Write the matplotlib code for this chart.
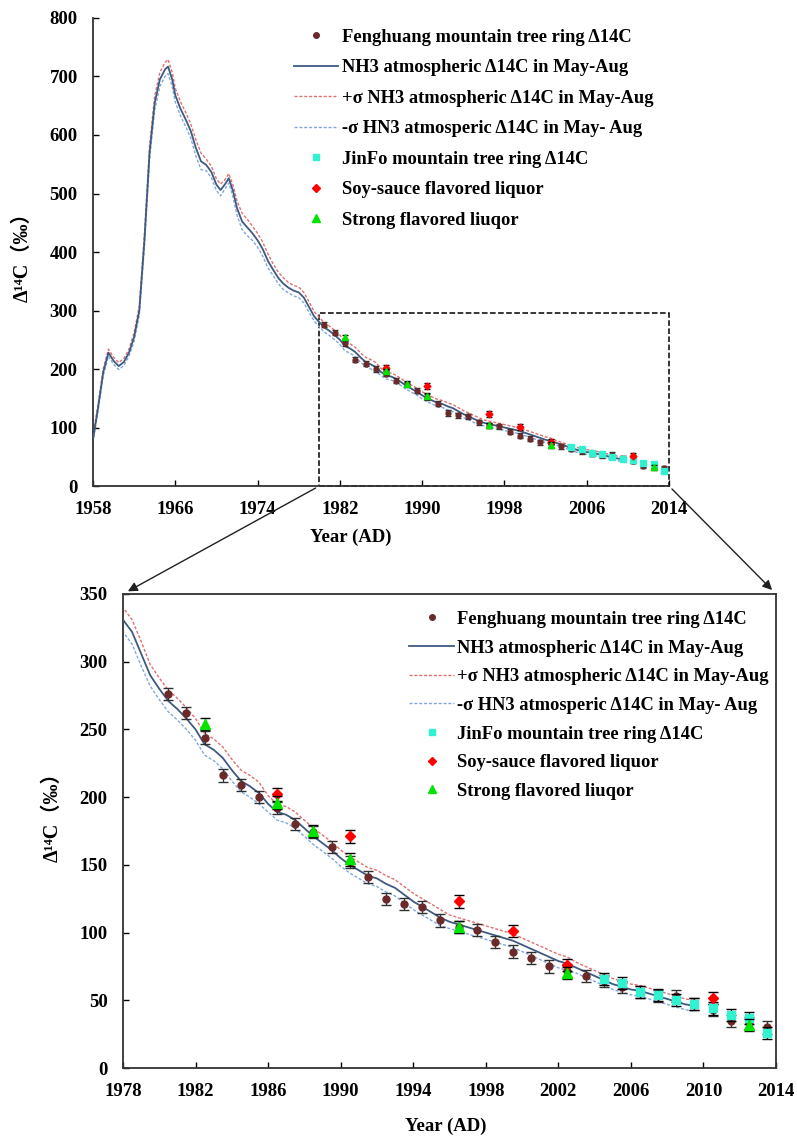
import numpy as np
import matplotlib
matplotlib.use("Agg")
import matplotlib.pyplot as plt
from matplotlib.patches import Rectangle, ConnectionPatch
from matplotlib.lines import Line2D

plt.rcParams['font.family'] = ['Liberation Serif', 'Noto Sans CJK SC', 'DejaVu Sans']
plt.rcParams['font.weight'] = 'bold'

# atmospheric curve (NH3 zone 3, May-Aug)
atm_year = [1958.0, 1958.5, 1959.0, 1959.5, 1960.0, 1960.5, 1961.0, 1961.5, 1962.0, 1962.5,
            1963.0, 1963.5, 1964.0, 1964.5, 1965.0, 1965.3, 1965.7,
            1966.0, 1966.5, 1967.0, 1967.5, 1968.0, 1968.5, 1969.0, 1969.5, 1970.0, 1970.4, 1970.8, 1971.2, 1971.6,
            1972.0, 1972.5, 1973.0, 1973.5, 1974.0, 1974.5, 1975.0, 1975.5, 1976.0, 1976.5, 1977.0, 1977.5,
            1978.0, 1978.5, 1979.0, 1979.5, 1980.0, 1980.5, 1981.0, 1981.5, 1982.0, 1982.5, 1983.0, 1983.5,
            1984.0, 1984.5, 1985.0, 1985.5, 1986.0, 1986.5, 1987.0, 1987.5, 1988.0, 1988.5, 1989.0, 1989.5,
            1990.0, 1990.5, 1991.0, 1991.5, 1992.0, 1992.5, 1993.0, 1993.5, 1994.0, 1994.5, 1995.0, 1995.5,
            1996.0, 1996.5, 1997.0, 1997.5, 1998.0, 1998.5, 1999.0, 1999.5, 2000.0, 2000.5, 2001.0, 2001.5,
            2002.0, 2002.5, 2003.0, 2003.5, 2004.0, 2004.5, 2005.0, 2005.5, 2006.0, 2006.5, 2007.0, 2007.5,
            2008.0, 2008.5, 2009.0, 2009.5]
nh3 = [80, 135, 195, 228, 214, 205, 212, 228, 255, 300,
       420, 570, 655, 695, 712, 717, 695,
       668, 645, 627, 607, 578, 555, 549, 537, 515, 506, 515, 526, 505,
       475, 452, 442, 432, 420, 405, 385, 370, 356, 346, 339, 334,
       331, 322, 306, 290, 280, 271, 265, 258, 250, 239, 235, 229,
       220, 212, 208, 203, 195, 189, 187, 183, 177, 171, 166, 161,
       155, 150, 146, 142, 140, 136, 133, 128, 123, 119, 115, 111,
       108, 106, 104, 102, 100, 98, 96, 94, 91, 88, 85, 82,
       79, 77, 74, 71, 68, 65, 62, 60, 58, 57, 55, 53,
       51, 49, 47, 46]
sigma = [5, 6, 6, 6, 6, 6, 6, 6, 7, 8,
         10, 12, 12, 12, 12, 12, 12,
         12, 12, 12, 12, 14, 14, 10, 10, 10, 10, 8, 8, 10,
         12, 14, 14, 12, 12, 12, 12, 10, 10, 10, 9, 9,
         9, 9, 9, 8, 8, 8, 8, 8, 8, 8, 8, 8,
         8, 8, 8, 8, 6, 6, 6, 6, 6, 6, 6, 6,
         6, 6, 6, 6, 6, 6, 6, 6, 6, 6, 6, 6,
         5, 5, 5, 5, 5, 5, 5, 5, 5, 5, 5, 5,
         5, 5, 4, 4, 4, 4, 4, 4, 4, 4, 4, 4,
         4, 4, 4, 4]

feng_year = [1980.5, 1981.5, 1982.5, 1983.5, 1984.5, 1985.5, 1986.5, 1987.5, 1988.5, 1989.5,
             1990.5, 1991.5, 1992.5, 1993.5, 1994.5, 1995.5, 1996.5, 1997.5, 1998.5, 1999.5,
             2000.5, 2001.5, 2002.5, 2003.5, 2004.5, 2005.5, 2006.5, 2007.5, 2008.5, 2009.5,
             2010.5, 2011.5, 2012.5, 2013.5]
feng = [276, 262, 244, 216, 209, 200, 192, 180, 174, 163,
        152, 141, 125, 121, 119, 109, 104, 102, 93, 86,
        81, 75, 72, 68, 64, 60, 56, 53, 53, 47,
        43, 35, 33, 30]
jinfo_year = [2004.5, 2005.5, 2006.5, 2007.5, 2008.5, 2009.5, 2010.5, 2011.5, 2012.5, 2013.5]
jinfo = [66, 63, 56, 54, 50, 47, 44, 39, 37, 26]
soy_year = [1986.5, 1990.5, 1996.5, 1999.5, 2002.5, 2010.5]
soy = [202, 171, 123, 101, 76, 52]
strong_year = [1982.5, 1986.5, 1988.5, 1990.5, 1996.5, 2002.5, 2012.5]
strong = [254, 196, 175, 154, 104, 70, 32]
err = 4.5

labels = ["Fenghuang mountain tree ring \u039414C",
          "NH3 atmospheric \u039414C in May-Aug",
          "+\u03c3 NH3 atmospheric \u039414C in May-Aug",
          "-\u03c3 HN3 atmosperic \u039414C in May- Aug",
          "JinFo mountain tree ring \u039414C",
          "Soy-sauce flavored liquor",
          "Strong flavored liuqor"]

c_brown = "#6B2A2A"
c_line = "#3D5A80"
c_up = "#E07070"
c_low = "#80A8DE"
c_cyan = "#30F2D0"
c_red = "#FF0000"
c_green = "#00E400"
dash = (0, (2.2, 1.3))

upper = np.array(nh3) + np.array(sigma)
lower = np.array(nh3) - np.array(sigma)

fig = plt.figure(figsize=(7.97, 11.39), dpi=100)
ax1 = fig.add_axes([0.1167, 0.5733, 0.7227, 0.4109])
ax2 = fig.add_axes([0.1543, 0.0623, 0.8194, 0.4162])


def draw(ax, ms, cap):
    ax.errorbar(feng_year, feng, yerr=err, fmt='o', color=c_brown, ms=ms,
                ecolor='#303030', elinewidth=0.9, capsize=cap, zorder=4)
    ax.plot(atm_year, nh3, color=c_line, lw=1.3, zorder=3)
    ax.plot(atm_year, upper, color=c_up, lw=1.0, ls=dash, zorder=2)
    ax.plot(atm_year, lower, color=c_low, lw=1.0, ls=dash, zorder=2)
    ax.errorbar(jinfo_year, jinfo, yerr=err, fmt='s', color=c_cyan, ms=ms * 1.1,
                ecolor='black', elinewidth=0.9, capsize=cap, zorder=5)
    ax.errorbar(soy_year, soy, yerr=err, fmt='D', color=c_red, ms=ms,
                ecolor='black', elinewidth=0.9, capsize=cap, zorder=5)
    ax.errorbar(strong_year, strong, yerr=err, fmt='^', color=c_green, ms=ms * 1.3,
                ecolor='black', elinewidth=0.9, capsize=cap, zorder=6)


draw(ax1, 3.5, 2.5)
draw(ax2, 5, 3.5)

handles = [Line2D([], [], ls='none', marker='o', color=c_brown, ms=4),
           Line2D([], [], color=c_line, lw=1.3),
           Line2D([], [], color=c_up, lw=1.0, ls=dash),
           Line2D([], [], color=c_low, lw=1.0, ls=dash),
           Line2D([], [], ls='none', marker='s', color=c_cyan, ms=5),
           Line2D([], [], ls='none', marker='D', color=c_red, ms=4.5),
           Line2D([], [], ls='none', marker='^', color=c_green, ms=6)]

# top panel
ax1.set_xlim(1958, 2014)
ax1.set_ylim(0, 800)
ax1.set_xticks(np.arange(1958, 2015, 8))
ax1.set_yticks(np.arange(0, 801, 100))
ax1.spines['top'].set_visible(False)
ax1.spines['right'].set_visible(False)
ax1.add_patch(Rectangle((1980, 0), 34, 295, fill=False, ls='--', lw=1.1, ec='black', zorder=1,
                        clip_on=False))

# bottom panel
ax2.set_xlim(1978, 2014)
ax2.set_ylim(0, 350)
ax2.set_xticks(np.arange(1978, 2015, 4))
ax2.set_yticks(np.arange(0, 351, 50))

for ax in (ax1, ax2):
    ax.tick_params(direction='in', length=4, width=1, labelsize=13.5)
    ax.tick_params(axis='x', pad=11)
    ax.tick_params(axis='y', pad=11)
    for s in ax.spines.values():
        s.set_linewidth(1.3)
        s.set_color('#333333')
    for t in ax.get_xticklabels() + ax.get_yticklabels():
        t.set_fontweight('bold')
    ax.set_xlabel("Year (AD)", fontsize=13.5, fontweight='bold')
    ax.set_ylabel("\u0394\u00b9\u2074C\uff08\u2030\uff09", fontsize=14.5, fontweight='bold')

ax1.xaxis.set_label_coords(0.448, -0.091)
ax1.yaxis.set_label_coords(-0.104, 0.5)
ax2.xaxis.set_label_coords(0.495, -0.104)
ax2.yaxis.set_label_coords(-0.093, 0.54)

leg_kw = dict(frameon=False, fontsize=13.3, handlelength=2.4,
              handletextpad=0.2, borderaxespad=0.0, borderpad=0.2)
ax1.legend(handles, labels, loc='upper left', bbox_to_anchor=(0.342, 0.985),
           labelspacing=0.73, **leg_kw)
ax2.legend(handles, labels, loc='upper left', bbox_to_anchor=(0.433, 0.972),
           labelspacing=0.63, **leg_kw)

# zoom arrows
for xa, xb in ((1980, 1978), (2014, 2014)):
    con = ConnectionPatch(xyA=(xa, 0), coordsA=ax1.transData,
                          xyB=(xb, 350), coordsB=ax2.transData,
                          arrowstyle='-|>', mutation_scale=14, lw=1.0, color='#202020',
                          shrinkA=3, shrinkB=4)
    fig.add_artist(con)

fig.savefig("out.png", dpi=100)
